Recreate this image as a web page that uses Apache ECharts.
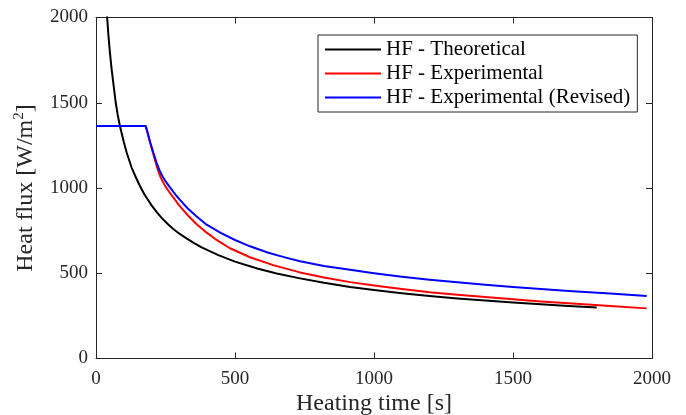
<!DOCTYPE html>
<html>
<head>
<meta charset="utf-8">
<script src="https://cdn.jsdelivr.net/npm/echarts@6/dist/echarts.min.js"></script>
<style>html,body{margin:0;padding:0;background:#fff;}#c{width:686px;height:415px;}</style>
</head>
<body>
<div id="c"></div>
<script>
// Data: [time s, heat flux W/m2]
const theoretical = [[35,2150],[38,2050],[44,1910],[50,1795],[56,1700],[62,1620],[71,1500],[78,1430],[86,1364],[100,1270],[110,1210],[120,1160],[128,1120],[140,1075],[158,1012],[175,960],[200,898],[220,856],[240,818],[260,786],[278,760],[300,732],[320,710],[350,680],[380,652],[440,606],[500,568],[580,528],[650,498],[734,470],[820,444],[914,420],[1000,402],[1100,383],[1200,367],[1300,352],[1400,340],[1500,329],[1600,318],[1700,308],[1801,299]];
const experimental = [[179,1364],[186,1320],[195,1262],[206,1200],[218,1130],[230,1072],[240,1038],[250,1008],[264,975],[278,945],[290,918],[302,892],[330,840],[360,790],[398,738],[428,702],[480,648],[554,594],[640,546],[734,505],[820,475],[914,448],[1000,428],[1100,408],[1200,389],[1300,374],[1400,360],[1500,347],[1600,335],[1700,324],[1850,308],[1981,294]];
const revised = [[0,1364],[179,1364],[186,1322],[195,1268],[206,1208],[218,1148],[230,1098],[240,1066],[250,1040],[264,1008],[278,978],[290,953],[302,930],[330,880],[360,836],[398,785],[450,735],[500,695],[554,658],[620,620],[686,590],[734,570],[820,543],[914,520],[1000,500],[1100,480],[1200,462],[1300,447],[1400,433],[1500,420],[1600,408],[1700,396],[1850,381],[1981,367]];
const seriesNames = ['HF - Theoretical','HF - Experimental','HF - Experimental (Revised)'];
const seriesColors = ['#000000','#ff0000','#0000ff'];
const xTicks = [0,500,1000,1500,2000];
const yTicks = [0,500,1000,1500,2000];

const font = 'Liberation Serif, Times New Roman, serif';
const axisCol = '#262626';
const chart = echarts.init(document.getElementById('c'), null, {renderer:'canvas'});
const gridBox = {left:96, right:34, top:17.5, bottom:56.5, containLabel:false, outerBoundsMode:'none'};
const common = {
  min: xTicks[0], max: xTicks[xTicks.length-1], interval: 500,
  splitLine:{show:false},
  axisLine:{show:true, onZero:false, lineStyle:{color:axisCol, width:1}},
  axisTick:{show:true, inside:true, length:6, lineStyle:{color:axisCol}}
};
const yCommon = Object.assign({}, common, {min:yTicks[0], max:yTicks[yTicks.length-1], interval:500});
const data = [theoretical, experimental, revised];
chart.setOption({
  animation:false,
  backgroundColor:'#fff',
  grid: gridBox,
  legend:{
    show:true, orient:'vertical', left:318, top:35,
    data: seriesNames,
    icon:'rect', itemWidth:56, itemHeight:2, itemGap:3,
    padding:[4,7,4,7],
    backgroundColor:'#fff', borderColor:axisCol, borderWidth:1,
    textStyle:{fontFamily:font, fontSize:21, color:'#000'}
  },
  xAxis:[
    Object.assign({}, common, {type:'value', position:'bottom',
      name:'Heating time [s]', nameLocation:'middle', nameGap:33, nameMoveOverlap:false,
      nameTextStyle:{fontFamily:font, fontSize:24, color:'#262626'},
      axisLabel:{show:true, margin:11, fontFamily:font, fontSize:19, color:'#262626',
        formatter:v=>xTicks.includes(v)?String(v):''}}),
    Object.assign({}, common, {type:'value', position:'top', axisLabel:{show:false}})
  ],
  yAxis:[
    Object.assign({}, yCommon, {type:'value', position:'left',
      name:'{a|Heat flux [W/m}{s|2}{a|]}', nameLocation:'middle', nameGap:57, nameMoveOverlap:false,
      nameTextStyle:{rich:{
        a:{fontFamily:font, fontSize:24, color:'#262626'},
        s:{fontFamily:font, fontSize:15, color:'#262626', verticalAlign:'top', padding:[0,0,12,0]}}},
      axisLabel:{show:true, margin:8, fontFamily:font, fontSize:19, color:'#262626',
        formatter:v=>yTicks.includes(v)?String(v):''}}),
    Object.assign({}, yCommon, {type:'value', position:'right', axisLabel:{show:false}})
  ],
  series: data.map((d,i)=>({
    name: seriesNames[i], type:'line', data:d, smooth:false, symbol:'none', clip:true,
    xAxisIndex:0, yAxisIndex:0,
    lineStyle:{color:seriesColors[i], width:2, join:'round'}, itemStyle:{color:seriesColors[i]}
  }))
});
</script>
</body>
</html>
